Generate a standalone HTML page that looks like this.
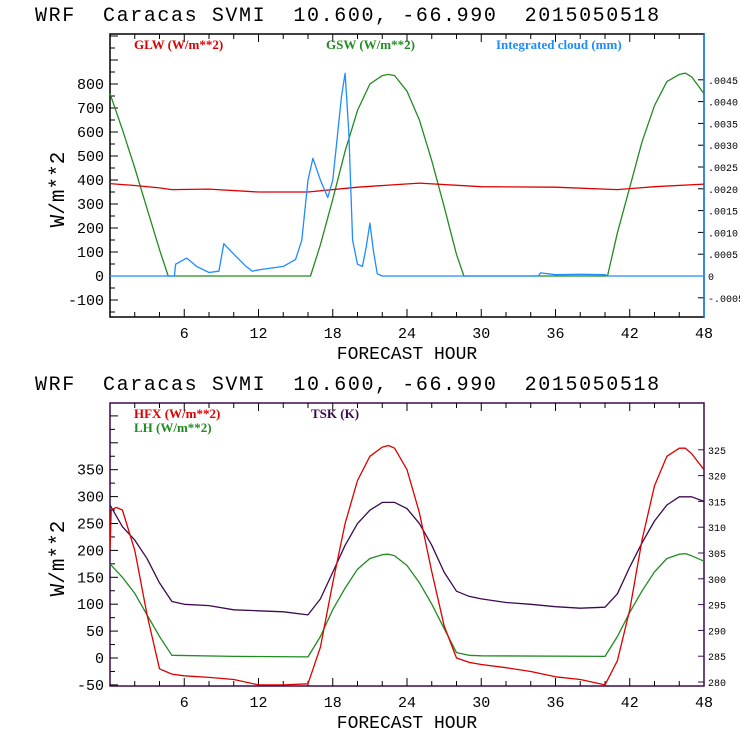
<!DOCTYPE html>
<html><head><meta charset="utf-8"><style>
body{margin:0;background:#fff;}
svg{display:block;}
.t{font-family:"Liberation Mono",monospace;font-size:20px;fill:#000;letter-spacing:1.6px;white-space:pre;}
.ax{font-family:"Liberation Mono",monospace;font-size:15px;fill:#000;}
.xt{font-family:"Liberation Mono",monospace;font-size:18px;fill:#000;}
.yt{font-family:"Liberation Mono",monospace;font-size:21px;fill:#000;}
.rx{font-family:"Liberation Mono",monospace;font-size:10px;fill:#000;}
.lg{font-family:"Liberation Serif",serif;font-size:13px;font-weight:bold;}
</style></head><body>
<svg id="svg" width="740" height="740" viewBox="0 0 740 740" xmlns="http://www.w3.org/2000/svg"></svg>
<script>
const xTicks=[6,12,18,24,30,36,42,48];
const topLeftTicks=[-100,0,100,200,300,400,500,600,700,800];
const topLeftLabels=["-100","0","100","200","300","400","500","600","700","800"];
const topRightTicks=[-0.0005,0,0.0005,0.001,0.0015,0.002,0.0025,0.003,0.0035,0.004,0.0045];
const topRightLabels=["-.0005","0",".0005",".0010",".0015",".0020",".0025",".0030",".0035",".0040",".0045"];
const botLeftTicks=[-50,0,50,100,150,200,250,300,350];
const botRightTicks=[280,285,290,295,300,305,310,315,320,325];

const gswHours=[0,1,2,3,4,4.7,16.2,17,18,19,20,21,22,22.5,23,24,25,26,27,28,28.6,40.2,41,42,43,44,45,46,46.5,47,48];
const gswValues=[760,610,450,280,110,0,0,130,320,520,690,800,835,840,835,770,650,480,290,90,0,0,180,370,560,710,810,840,845,830,760];
const glwHours=[0,2,4,5,8,12,16,20,25,30,36,41,44,48];
const glwValues=[385,377,367,360,362,350,350,370,387,372,370,360,372,383];
const cloudHours=[0,5.2,5.3,6.2,7,8,8.8,9.2,10,11,11.5,12,14,15,15.5,16,16.4,17,17.6,18,18.7,19,19.3,19.6,20,20.4,20.7,21,21.3,21.6,22,34.6,34.8,36,38,40,40.2,48];
const cloudValues=[0,0,0.00027,0.00041,0.00022,0.00008,0.00011,0.00074,0.0005,0.00022,0.00011,0.00014,0.00022,0.00038,0.00082,0.0022,0.0027,0.0022,0.0018,0.0022,0.0041,0.00465,0.0033,0.00082,0.00027,0.00022,0.00066,0.00121,0.00055,0.00005,0,0,0.00007,0.00003,0.00004,0.00003,0,0];

const hfxHours=[0,0.1,0.5,1,2,3,4,5,6,8,10,12,14,16,17,18,19,20,21,22,22.5,23,24,25,26,27,28,29,30,32,34,36,38,40,41,42,43,44,45,46,46.5,47,48];
const hfxValues=[200,275,280,275,200,80,-20,-30,-33,-36,-40,-50,-50,-48,20,140,250,330,375,392,395,390,350,270,160,60,0,-8,-12,-18,-25,-35,-40,-50,-5,90,220,320,375,390,390,380,350];
const lhHours=[0,1,2,3,4,5,10,16,17,18,19,20,21,22,22.5,23,24,25,26,27,28,29,30,40,41,42,43,44,45,46,46.5,47,48];
const lhValues=[175,150,120,80,40,5,3,2,40,90,130,165,185,192,193,190,172,140,100,55,10,5,4,3,40,85,125,160,185,193,194,190,180];
const tskHours=[0,1,2,3,4,5,6,8,10,12,14,16,17,18,19,20,21,22,23,24,25,26,27,28,29,30,32,34,36,38,40,41,42,43,44,45,46,47,48];
const tskValues=[314.3,310.1,307.5,303.9,299.2,295.6,295.05,294.8,294.0,293.8,293.6,293.0,296.1,301.3,306.5,310.7,313.3,314.8,314.8,313.6,310.7,306.5,301.3,297.6,296.6,296.1,295.4,295.05,294.6,294.3,294.5,297.1,302.3,307.0,311.2,314.3,315.9,315.9,315.0];

const NS="http://www.w3.org/2000/svg";
const svg=document.getElementById('svg');
function el(tag,attrs,parent,text){const e=document.createElementNS(NS,tag);for(const k in attrs)e.setAttribute(k,attrs[k]);if(text!==undefined)e.textContent=text;(parent||svg).appendChild(e);return e;}
const L=110,R=704;
const xs=h=>L+(R-L)*h/48;

function panel(p){
  const g=el('g',{});
  
  
  const t=el('text',{x:35,y:p.top-13,class:'t','xml:space':'preserve'},g,'WRF  Caracas SVMI  10.600, -66.990  2015050518');
  
  
  const fr=el('rect',{x:L,y:p.top,width:R-L,height:p.bot-p.top,fill:'none',stroke:p.frame,'stroke-width':1.5},g);
  
  
  for(let h=2;h<48;h+=2){
    const len=(h%6===0)?8:5;
    el('line',{x1:xs(h),x2:xs(h),y1:p.bot,y2:p.bot-len,stroke:'#000'},g);
    el('line',{x1:xs(h),x2:xs(h),y1:p.top,y2:p.top+len,stroke:'#000'},g);
  }
  xTicks.forEach(h=>{const tx=el('text',{x:xs(h),y:p.bot+21,class:'ax','text-anchor':'middle'},g,String(h));
    
    });
  const xl=el('text',{x:407,y:p.bot+42,class:'xt','text-anchor':'middle'},g,'FORECAST HOUR');
  
  
  const yl=el('text',{x:0,y:0,class:'yt','text-anchor':'middle',transform:`translate(${p.ylx},${(p.top+p.bot)/2+14}) rotate(-90)`},g,'W/m**2');
  
  
  for(let v=p.lmin;v<=p.lmaxTick;v+=p.lminor){const y=p.ly(v);if(y<p.top||y>p.bot)continue;
    el('line',{x1:L,x2:L+(Math.abs(v%p.lmajor)<1e-9?8:5),y1:y,y2:y,stroke:'#000'},g);}
  p.lticks.forEach((v,i)=>{const tx=el('text',{x:L-6,y:p.ly(v)+5,class:'ax','text-anchor':'end'},g,p.llabels[i]);
    
    });
  p.rticks.forEach((v,i)=>{const y=p.ry(v);
    el('line',{x1:R,x2:R-6,y1:y,y2:y,stroke:p.frame},g);
    const tx=el('text',{x:R+4,y:y+4,class:'rx'},g,p.rlabels[i]);
    
    });
  return g;
}
function line(g,hours,vals,ys,color,name){
  const d=hours.map((h,i)=>(i?'L':'M')+xs(h).toFixed(1)+','+ys(vals[i]).toFixed(1)).join('');
  const p=el('path',{d:d,fill:'none',stroke:color,'stroke-width':1.3,'stroke-linejoin':'round'},g);
  
  
}
function legend(g,x,y,color,text,name){
  const t=el('text',{x:x,y:y,class:'lg',fill:color},g,text);
  
  
}
const tT=34,tB=317;
const tly=v=>276-v*0.24;
const trY=v=>276-v/0.0005*21.8;
const g1=panel({name:'radiation-chart',top:tT,bot:tB,frame:'#000',ylx:64,ly:tly,ry:trY,lmin:-150,lmaxTick:1100,lminor:50,lmajor:100,
  lticks:topLeftTicks,llabels:topLeftLabels,rticks:topRightTicks,rlabels:topRightLabels});
el('line',{x1:R,x2:R,y1:tT,y2:tB,stroke:'#1e8cff','stroke-width':1.5},g1);
line(g1,gswHours,gswValues,tly,'#228b22','gsw-line');
line(g1,glwHours,glwValues,tly,'#dd0000','glw-line');
line(g1,cloudHours,cloudValues,trY,'#1e8cff','cloud-line');
legend(g1,134,49,'#dd0000','GLW (W/m**2)','legend-glw');
legend(g1,326,49,'#228b22','GSW (W/m**2)','legend-gsw');
legend(g1,496,49,'#1e8cff','Integrated cloud (mm)','legend-cloud');
const bT=403,bB=686;
const bly=v=>658-v*0.538;
const bry=v=>682-(v-280)*5.16;
const g2=panel({name:'flux-chart',top:bT,bot:bB,frame:'#3c0a50',ylx:64,ly:bly,ry:bry,lmin:-50,lmaxTick:600,lminor:25,lmajor:50,
  lticks:botLeftTicks,llabels:botLeftTicks.map(String),rticks:botRightTicks,rlabels:botRightTicks.map(String)});
line(g2,lhHours,lhValues,bly,'#228b22','lh-line');
line(g2,tskHours,tskValues,bry,'#3c0a50','tsk-line');
line(g2,hfxHours,hfxValues,bly,'#dd0000','hfx-line');
legend(g2,134,418,'#dd0000','HFX (W/m**2)','legend-hfx');
legend(g2,134,432,'#228b22','LH  (W/m**2)','legend-lh');
legend(g2,311,418,'#3c0a50','TSK (K)','legend-tsk');
</script>
</body></html>
